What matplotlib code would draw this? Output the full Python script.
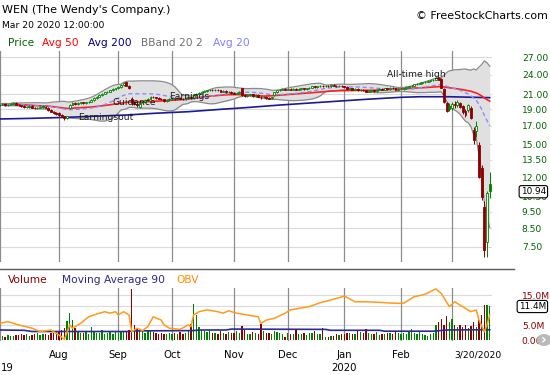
import numpy as np
import pandas as pd
import matplotlib
matplotlib.use("Agg")
import matplotlib.pyplot as plt
from matplotlib.lines import Line2D
from matplotlib.patches import Ellipse
from matplotlib.ticker import NullLocator
from matplotlib.transforms import blended_transform_factory

# ---------------- data ----------------
holidays = ['2019-07-04', '2019-09-02', '2019-11-28', '2019-12-25',
            '2020-01-01', '2020-01-20', '2020-02-17']
dates = pd.bdate_range('2019-07-01', '2020-03-20')
dates = dates[~dates.isin(pd.to_datetime(holidays))]

closes = [
    19.6, 19.7, 19.5, 19.6, 19.7, 19.8, 19.6, 19.5, 19.4, 19.3,
    19.3, 19.4, 19.2, 19.1, 19.2, 19.3, 19.3, 19.2, 18.9, 18.7,
    18.5, 18.4, 18.3, 18.1, 17.9, 18.1, 19.5, 19.8, 19.7, 19.8,
    19.9, 19.8, 19.9, 20.0, 20.2, 20.5, 20.7, 20.9, 21.1, 21.3,
    21.4, 21.6, 21.8, 21.9, 22.1, 22.4, 22.7, 22.3, 21.9, 19.9,
    19.7, 19.5, 19.9, 20.0, 20.2, 20.4, 20.7, 20.6, 20.5, 20.4,
    20.3, 20.1, 20.2, 20.4, 20.4, 20.3, 20.5, 20.4, 20.3, 20.5,
    20.6, 20.5, 20.9, 21.1, 21.2, 21.4, 21.5, 21.6, 21.7, 21.6,
    21.7, 21.6, 21.4, 21.5, 21.3, 21.4, 21.2, 21.1, 21.2, 21.4,
    20.9, 20.8, 20.9, 21.0, 20.8, 20.9, 20.7, 20.6, 20.7, 20.5,
    20.4, 20.6, 21.3, 21.6, 21.7, 21.8, 21.7, 21.8, 21.7, 21.8,
    21.7, 21.8, 21.9, 21.8, 21.9, 22.0, 22.2, 22.1, 22.2, 22.3,
    22.2, 22.3, 22.2, 22.4, 22.3, 22.2, 22.3, 22.2, 22.1, 21.8,
    21.9, 21.7, 21.8, 21.6, 21.7, 21.6, 21.4, 21.5, 21.6, 21.5,
    21.7, 21.8, 21.7, 21.9, 21.8, 22.0, 21.9, 21.7, 21.8, 21.8,
    21.9, 22.1, 22.2, 22.3, 22.5, 22.6, 22.7, 22.8, 22.9, 23.0,
    23.1, 23.2, 23.4, 23.2, 22.0, 20.0, 18.8, 19.0, 19.7, 19.5,
    19.95, 19.3, 18.6, 18.3, 19.5, 17.9, 15.4, 17.0, 12.0, 10.5,
    7.35, 10.75, 10.94]

opens = [
    19.5, 19.6, 19.7, 19.5, 19.6, 19.7, 19.8, 19.6, 19.5, 19.4,
    19.3, 19.3, 19.4, 19.2, 19.1, 19.2, 19.4, 19.3, 19.2, 18.9,
    18.7, 18.5, 18.5, 18.3, 18.1, 17.9, 19.1, 19.6, 19.8, 19.7,
    19.8, 19.9, 19.8, 19.9, 20.0, 20.2, 20.5, 20.7, 20.9, 21.1,
    21.3, 21.4, 21.6, 21.8, 21.9, 22.1, 22.4, 22.8, 22.3, 20.4,
    19.9, 19.7, 19.3, 19.9, 20.0, 20.2, 20.4, 20.7, 20.6, 20.5,
    20.4, 20.3, 20.1, 20.2, 20.3, 20.4, 20.3, 20.5, 20.4, 20.3,
    20.5, 20.6, 20.5, 20.9, 21.1, 21.2, 21.4, 21.5, 21.6, 21.7,
    21.6, 21.7, 21.6, 21.4, 21.5, 21.3, 21.4, 21.2, 21.1, 21.2,
    21.9, 20.9, 20.8, 20.9, 21.0, 20.8, 20.9, 20.7, 20.6, 20.7,
    20.5, 20.5, 20.9, 21.3, 21.6, 21.7, 21.8, 21.7, 21.8, 21.7,
    21.8, 21.7, 21.8, 21.9, 21.8, 21.9, 22.0, 22.2, 22.1, 22.2,
    22.3, 22.2, 22.3, 22.2, 22.4, 22.3, 22.2, 22.3, 22.2, 22.1,
    21.8, 21.9, 21.7, 21.8, 21.6, 21.7, 21.6, 21.4, 21.5, 21.6,
    21.5, 21.7, 21.8, 21.7, 21.9, 21.8, 22.0, 21.9, 21.7, 21.8,
    21.8, 21.9, 22.1, 22.2, 22.3, 22.5, 22.6, 22.7, 22.8, 22.9,
    23.0, 23.1, 23.2, 23.5, 23.3, 21.8, 19.8, 19.4, 19.1, 19.7,
    19.5, 19.8, 19.4, 18.8, 18.9, 19.2, 16.5, 16.4, 14.9, 12.8,
    9.8, 7.75, 11.45]

highs = [
    19.7, 19.8, 19.8, 19.7, 19.8, 19.9, 19.9, 19.7, 19.6, 19.5,
    19.4, 19.5, 19.5, 19.3, 19.3, 19.4, 19.5, 19.4, 19.3, 19.0,
    18.8, 18.6, 18.6, 18.4, 18.2, 18.2, 19.7, 20.0, 19.9, 19.9,
    20.0, 20.0, 20.0, 20.1, 20.3, 20.6, 20.8, 21.0, 21.2, 21.4,
    21.5, 21.7, 21.9, 22.0, 22.2, 22.5, 22.9, 22.9, 22.4, 20.6,
    20.1, 19.8, 20.0, 20.1, 20.3, 20.5, 20.8, 20.8, 20.7, 20.6,
    20.5, 20.4, 20.3, 20.5, 20.5, 20.5, 20.6, 20.6, 20.5, 20.6,
    20.7, 20.7, 21.0, 21.2, 21.3, 21.5, 21.6, 21.7, 21.8, 21.8,
    21.8, 21.8, 21.7, 21.6, 21.6, 21.5, 21.5, 21.3, 21.3, 21.5,
    22.0, 21.0, 21.0, 21.1, 21.1, 21.0, 21.0, 20.8, 20.8, 20.8,
    20.6, 20.7, 21.4, 21.7, 21.8, 21.9, 21.9, 21.9, 21.9, 21.9,
    21.9, 21.9, 22.0, 22.0, 22.0, 22.1, 22.3, 22.3, 22.3, 22.4,
    22.4, 22.4, 22.4, 22.5, 22.5, 22.4, 22.4, 22.4, 22.3, 22.2,
    22.0, 22.0, 21.9, 21.9, 21.8, 21.8, 21.7, 21.6, 21.7, 21.7,
    21.8, 21.9, 21.9, 22.0, 22.0, 22.1, 22.1, 22.0, 21.9, 21.9,
    22.0, 22.2, 22.3, 22.4, 22.6, 22.7, 22.8, 22.9, 23.0, 23.1,
    23.2, 23.3, 23.6, 23.7, 23.4, 22.0, 19.9, 19.8, 19.9, 20.1,
    20.2, 20.0, 19.6, 19.0, 19.7, 19.4, 16.8, 17.5, 15.2, 13.0,
    10.2, 10.9, 12.4]

lows = [
    19.4, 19.5, 19.4, 19.4, 19.5, 19.6, 19.5, 19.4, 19.3, 19.2,
    19.2, 19.2, 19.1, 19.0, 19.0, 19.1, 19.2, 19.1, 18.8, 18.6,
    18.4, 18.3, 18.2, 18.0, 17.7, 17.8, 19.0, 19.5, 19.6, 19.6,
    19.7, 19.7, 19.7, 19.8, 19.9, 20.1, 20.4, 20.6, 20.8, 21.0,
    21.2, 21.3, 21.5, 21.7, 21.8, 22.0, 22.3, 22.2, 21.8, 19.6,
    19.5, 19.3, 19.2, 19.8, 19.9, 20.1, 20.3, 20.5, 20.4, 20.3,
    20.2, 20.0, 20.0, 20.1, 20.2, 20.2, 20.2, 20.3, 20.2, 20.2,
    20.4, 20.4, 20.4, 20.8, 21.0, 21.1, 21.3, 21.4, 21.5, 21.5,
    21.5, 21.5, 21.3, 21.3, 21.2, 21.2, 21.1, 21.0, 21.0, 21.1,
    20.8, 20.7, 20.7, 20.8, 20.7, 20.7, 20.6, 20.4, 20.5, 20.4,
    20.3, 20.4, 20.8, 21.2, 21.5, 21.6, 21.6, 21.6, 21.6, 21.6,
    21.6, 21.6, 21.7, 21.7, 21.7, 21.8, 21.9, 22.0, 22.0, 22.1,
    22.1, 22.1, 22.1, 22.1, 22.2, 22.1, 22.1, 22.1, 22.0, 21.7,
    21.7, 21.6, 21.6, 21.5, 21.5, 21.5, 21.3, 21.3, 21.4, 21.4,
    21.4, 21.6, 21.6, 21.6, 21.7, 21.7, 21.8, 21.6, 21.6, 21.7,
    21.7, 21.8, 22.0, 22.1, 22.2, 22.4, 22.5, 22.6, 22.7, 22.8,
    22.9, 23.0, 23.1, 23.1, 21.9, 19.8, 18.6, 18.8, 18.9, 19.2,
    19.3, 19.1, 18.4, 18.0, 18.6, 17.8, 15.0, 15.8, 11.9, 10.3,
    7.0, 7.0, 10.4]

volumes_m = [
    2.2, 1.5, 1.2, 1.8, 1.6, 1.4, 1.9, 1.7, 2.0, 1.8,
    2.3, 1.6, 1.9, 2.1, 2.4, 1.7, 2.0, 2.2, 1.9, 2.6,
    2.4, 3.0, 3.2, 3.5, 4.0, 6.5, 9.2, 6.8, 4.0, 3.0,
    2.5, 2.4, 3.0, 2.2, 4.5, 2.8, 2.6, 2.5, 3.4, 2.3,
    2.6, 2.9, 2.2, 2.8, 2.5, 3.0, 3.2, 2.8, 3.5, 17.0,
    5.0, 4.2, 3.8, 3.0, 2.6, 3.2, 3.5, 2.8, 2.4, 2.2,
    2.6, 2.0, 2.3, 2.5, 2.2, 2.4, 2.0, 2.8, 2.3, 2.6,
    3.0, 5.5, 12.0, 8.5, 4.5, 3.5, 3.0, 2.8, 3.2, 2.4,
    2.6, 2.2, 3.0, 2.5, 2.2, 2.8, 2.4, 2.6, 3.0, 2.5,
    4.8, 3.4, 2.2, 2.0, 2.8, 2.4, 2.2, 5.5, 3.0, 2.6,
    2.4, 2.2, 3.3, 2.8, 2.5, 2.0, 1.2, 2.6, 2.2, 2.0,
    3.5, 2.2, 2.0, 2.5, 1.8, 2.6, 2.4, 3.0, 2.2, 2.0,
    4.0, 1.2, 1.0, 1.6, 1.4, 2.0, 1.8, 2.2, 2.0, 2.4,
    2.6, 2.2, 2.0, 3.2, 2.8, 2.5, 3.8, 2.4, 2.0, 2.2,
    2.8, 1.8, 2.2, 2.0, 2.6, 2.4, 2.2, 3.0, 2.6, 2.2,
    2.4, 2.0, 3.0, 3.8, 2.4, 2.2, 2.8, 2.0, 1.8, 1.6,
    2.0, 2.4, 5.2, 6.0, 7.3, 5.0, 8.0, 6.0, 7.3, 5.0,
    4.6, 5.2, 4.6, 5.0, 4.2, 4.8, 6.0, 4.5, 6.8, 8.5,
    11.8, 11.8, 11.4]

# 200-day average of price (needs history before the window)
ma200_idx = [0, 12, 25, 37, 47, 57, 70, 82, 91, 104, 119, 136, 149, 156, 167, 182]
ma200_val = [17.79, 17.87, 17.99, 18.15, 18.27, 18.48, 18.69, 18.99, 19.20,
             19.55, 19.91, 20.32, 20.60, 20.68, 20.68, 20.55]

# 90-day moving average of volume (millions)
ma90_idx = [0, 9, 12, 48, 50, 72, 74, 84, 86, 121, 123, 141, 143, 161, 166, 182]
ma90_val = [3.5, 3.4, 3.0, 3.0, 3.2, 3.3, 3.5, 3.5, 3.8, 3.7, 3.4, 3.4, 3.1, 3.1, 3.5, 3.6]

# OBV (scaled onto volume panel)
obv_idx = [0, 3, 7, 12, 15, 19, 22, 24, 26, 27, 30, 33, 37, 39, 41, 43, 44, 46, 48, 49,
           51, 53, 55, 56, 57, 60, 61, 63, 67, 70, 71, 72, 74, 77, 81, 83, 85, 88, 92, 96,
           97, 99, 102, 106, 108, 111, 115, 119, 123, 128, 132, 136, 139, 143, 147, 150,
           154, 158, 162, 164, 167, 169, 173, 175, 177, 178, 180, 181, 182]
obv_val = [5.7, 6.3, 5.2, 4.1, 2.9, 3.5, 1.8, 0.4, 5.2, 4.1, 5.7, 7.9, 9.1, 9.6, 9.1, 9.6,
           8.5, 9.6, 8.5, 2.9, 4.1, 3.3, 4.6, 6.3, 7.9, 6.8, 5.2, 4.1, 3.7, 5.2, 4.6, 8.5,
           9.6, 10.2, 9.6, 9.1, 9.9, 9.1, 8.5, 7.9, 5.7, 6.8, 7.4, 9.1, 10.2, 10.7, 11.3,
           12.6, 13.5, 14.8, 12.9, 12.9, 12.8, 12.6, 12.4, 12.4, 14.6, 15.4, 17.2, 15.7,
           11.3, 12.9, 10.7, 9.6, 10.2, 6.8, 2.9, 5.2, 8.5]

price_ticks = [7.5, 8.5, 9.5, 10.5, 12, 13.5, 15, 17, 19, 21, 24, 27]
vol_ticks = [0, 5, 15]
vol_tick_labels = ['0.00', '5.0M', '15.0M']
vol_grid = [5, 11.4, 15]
last_price_label = '10.94'
last_vol_label = '11.4M'

# ---------------- derived ----------------
o = np.array(opens); c = np.array(closes); h = np.array(highs); l = np.array(lows)
v = np.array(volumes_m)
n = len(c)
x = np.arange(n)
s = pd.Series(c)
ma20 = s.rolling(20, min_periods=1).mean().values
sd20 = s.rolling(20, min_periods=1).std(ddof=0).fillna(0).values
ma50 = s.rolling(50, min_periods=1).mean().values
bb_up = ma20 + 2 * sd20
bb_lo = ma20 - 2 * sd20

prev = np.concatenate([[o[0]], c[:-1]])
GREEN = '#008000'
RED = '#8b0000'
col = np.where(c >= prev, GREEN, RED)
face = np.where(c > o, 'white', col)

month_starts = [i for i in range(1, n) if dates[i].month != dates[i - 1].month]
grid_idx = [0] + month_starts

# ---------------- figure ----------------
W, H = 550, 375
fig = plt.figure(figsize=(W / 100, H / 100), dpi=100)
fx = lambda px: px / W
fy = lambda py: 1 - py / H

axp = fig.add_axes([0, fy(262), fx(492), (262 - 51) / H])
axv = fig.add_axes([0, fy(341), fx(492), (341 - 288) / H])
xl = (0.08, 182.85)

# price panel
axp.set_yscale('log')
axp.set_ylim(6.76, 28.18)
axp.set_xlim(*xl)
for sp in axp.spines.values():
    sp.set_visible(False)
axp.set_xticks([])
axp.yaxis.set_minor_locator(NullLocator())
axp.set_yticks(price_ticks)
axp.set_yticklabels(['%.2f' % t for t in price_ticks])
axp.tick_params(axis='y', which='both', left=False, right=False, labelleft=False,
                labelright=True, pad=18, labelsize=6.6, labelcolor='#006400')
for t in price_ticks:
    axp.axhline(t, color='#dadada', lw=0.8, zorder=0)
for gi in grid_idx:
    axp.axvline(gi, color='#8c8c8c', lw=0.9, zorder=0.5)

axp.fill_between(x, bb_lo, bb_up, color='#e0e0e0', zorder=1, lw=0)
axp.plot(x, bb_up, color='#8a8a8a', lw=0.9, zorder=2)
axp.plot(x, bb_lo, color='#8a8a8a', lw=0.9, zorder=2)
axp.plot(ma200_idx, ma200_val, color='#1a1a9a', lw=1.2, zorder=3)
axp.plot(x, ma50, color='#ff2020', lw=1.2, zorder=3)
axp.plot(x, ma20, color='#8c8cff', lw=1.0, dashes=(3, 2), zorder=3)

axp.vlines(x, l, h, colors=col, lw=0.7, zorder=4)
body_lo = np.minimum(o, c)
body_h = np.maximum(np.abs(c - o), 0.04)
axp.bar(x, body_h, bottom=body_lo, width=0.7, color=face, edgecolor=col,
        linewidth=0.6, zorder=5)

ann_kw = dict(fontsize=6.6, color='#1a1a1a', va='center', ha='left', zorder=6)
axp.text(29.1, 18.0, 'Earningsout', **ann_kw)
axp.text(41.7, 19.86, 'Guidance', **ann_kw)
axp.text(62.9, 20.68, 'Earnings', **ann_kw)
axp.text(143.8, 24.07, 'All-time high', **ann_kw)

# volume panel
axv.set_xlim(*xl)
axv.set_ylim(-0.167, 17.5)
for sp in axv.spines.values():
    sp.set_visible(False)
axv.set_xticks([])
axv.set_yticks(vol_ticks)
axv.set_yticklabels(vol_tick_labels)
axv.tick_params(axis='y', left=False, right=False, labelleft=False, labelright=True,
                pad=18, labelsize=6.6, labelcolor='#8b0000')
for t in vol_grid:
    axv.axhline(t, color='#dadada', lw=0.8, zorder=0)
for gi in grid_idx:
    axv.axvline(gi, color='#8c8c8c', lw=0.9, zorder=0.5)
axv.bar(x, v, width=0.5, color=col, zorder=2)
axv.plot(ma90_idx, ma90_val, color='#2a2a96', lw=1.2, zorder=3)
axv.plot(obv_idx, obv_val, color='#ff9a1a', lw=1.1, zorder=4)

# separator
fig.add_artist(Line2D([0, fx(514)], [fy(269), fy(269)], color='#5a5a5a', lw=1.0))

# texts
fig.text(fx(2), fy(10), "WEN (The Wendy's Company.)", fontsize=8, va='center', ha='left')
fig.text(fx(2), fy(25), 'Mar 20 2020 12:00:00', fontsize=6.6, va='center', ha='left')
fig.text(fx(548), fy(16), '© FreeStockCharts.com', fontsize=7.9, va='center', ha='right')

leg = [('Price', 8, '#006400'), ('Avg 50', 42, '#ff0000'), ('Avg 200', 88, '#000080'),
       ('BBand 20 2', 141, '#707070'), ('Avg 20', 213, '#8080ff')]
for t, px, cc in leg:
    fig.text(fx(px), fy(43), t, fontsize=7.7, color=cc, va='center', ha='left')
leg2 = [('Volume', 8, '#8b0000'), ('Moving Average 90', 62, '#2a2a8c'), ('OBV', 176, '#ff8c00')]
for t, px, cc in leg2:
    fig.text(fx(px), fy(280), t, fontsize=7.7, color=cc, va='center', ha='left')

trans = blended_transform_factory(axv.transData, fig.transFigure)
for i in month_starts:
    if dates[i].month == 3:
        continue
    axv.text(i, fy(355), dates[i].strftime('%b'), transform=trans, fontsize=7.3,
             ha='center', va='center')
    if dates[i].month == 1:
        axv.text(i, fy(368), str(dates[i].year), transform=trans, fontsize=7.3,
                 ha='center', va='center')
# the first year label is cut by the left edge in the original; only "19" shows
fig.text(fx(1), fy(368), str(dates[0].year)[2:], fontsize=7.3, ha='left', va='center')
fig.text(fx(478), fy(355), dates[-1].strftime('%-m/%-d/%Y'), fontsize=6.6,
         ha='center', va='center')

box = dict(boxstyle='round,pad=0.18,rounding_size=0.25', fc='white', ec='black', lw=0.8)
fig.text(fx(546), fy(191.7), last_price_label, fontsize=6.4, va='center', ha='right',
         bbox=box)
fig.text(fx(546), fy(306.5), last_vol_label, fontsize=6.4, va='center', ha='right',
         bbox=box)

fig.add_artist(Ellipse((fx(544), fy(340)), 15 / W, 12 / H, transform=fig.transFigure,
                       fc='#b9b9b9', ec='none'))
fig.text(fx(544), fy(340), '›', color='white', fontsize=10, fontweight='bold',
         ha='center', va='center')

fig.savefig('out.png', dpi=100)
